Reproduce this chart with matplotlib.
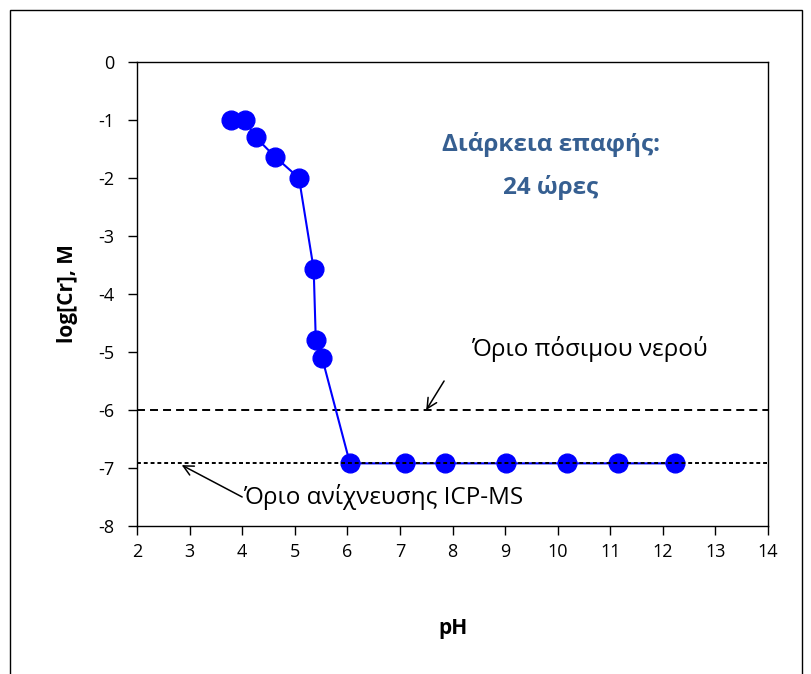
import matplotlib
matplotlib.use("Agg")
import matplotlib.pyplot as plt
from matplotlib.patches import Rectangle

plt.rcParams['font.family'] = ['Open Sans', 'DejaVu Sans']
plt.rcParams['axes.unicode_minus'] = False

ph = [3.79, 4.05, 4.26, 4.62, 5.08, 5.36, 5.40, 5.52, 6.05, 7.09, 7.86, 9.02, 10.17, 11.15, 12.23]
log_cr = [-1.0, -1.0, -1.30, -1.63, -2.0, -3.57, -4.79, -5.10, -6.92, -6.92, -6.92, -6.92, -6.92, -6.92, -6.92]

drinking_limit = -6.0
detection_limit = -6.92

x_ticks = list(range(2, 15))
y_ticks = list(range(-8, 1))

fig = plt.figure(figsize=(8.11, 6.74), dpi=100)
# chart-area frame (open at the bottom edge of the image)
fig.patches.append(Rectangle((9.5 / 811, -0.05), 792 / 811, 1.05 - 10 / 674,
                             transform=fig.transFigure, fill=False,
                             edgecolor='black', linewidth=1.0))
ax = fig.add_axes([137 / 811, 1 - 526 / 674, (768 - 137) / 811, (526 - 62) / 674])

ax.axhline(drinking_limit, color='black', linestyle=(0, (4.1, 2.6)), linewidth=1.4, zorder=1)
ax.axhline(detection_limit, color='black', linestyle=(0, (2.0, 1.5)), linewidth=1.4, zorder=3)
ax.plot(ph, log_cr, color='#0000FF', linewidth=1.5, marker='o', markersize=13.5,
        markerfacecolor='#0000FF', markeredgecolor='#0000FF', zorder=2)

ax.set_xlim(2, 14)
ax.set_ylim(-8, 0)
ax.set_xticks(x_ticks)
ax.set_yticks(y_ticks)
ax.tick_params(labelsize=13, direction='out', length=6.5, width=1)
ax.tick_params(axis='x', pad=6)
ax.tick_params(axis='y', pad=10)
for s in ax.spines.values():
    s.set_linewidth(1.0)

ax.set_xlabel('pH', fontsize=15, fontweight='bold', labelpad=41)
ax.set_ylabel('log[Cr], M', fontsize=15, fontweight='bold', labelpad=14)

ax.text(9.87, -1.80, 'Διάρκεια επαφής:\n24 ώρες', fontsize=17.5, fontweight='bold',
        color='#365F91', ha='center', va='center', linespacing=1.95)

ax.text(10.61, -4.95, 'Όριο πόσιμου νερού', fontsize=17.5, ha='center', va='center')
ax.annotate('', xy=(7.5, -6.0), xytext=(7.84, -5.5),
            arrowprops=dict(arrowstyle='->', color='black', lw=1.1,
                            shrinkA=0, shrinkB=0, mutation_scale=18))

ax.text(6.68, -7.5, 'Όριο ανίχνευσης ICP-MS', fontsize=17.5, ha='center', va='center')
ax.annotate('', xy=(2.85, -6.95), xytext=(4.0, -7.5),
            arrowprops=dict(arrowstyle='->', color='black', lw=1.1,
                            shrinkA=0, shrinkB=0, mutation_scale=18))

fig.savefig('out.png', dpi=100)
